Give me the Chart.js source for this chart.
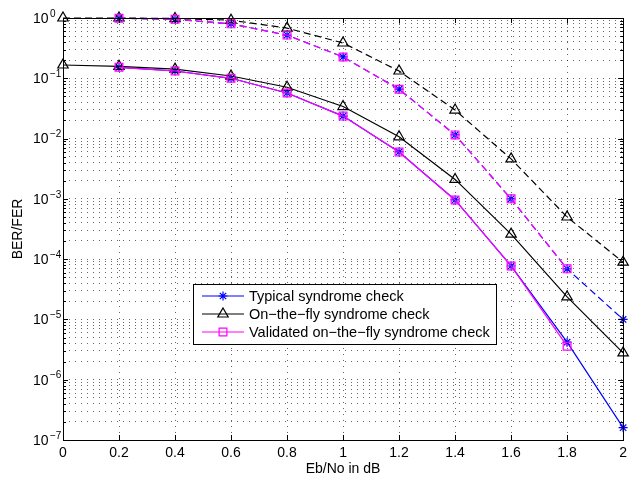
<!DOCTYPE html>
<html>
<head>
<meta charset="utf-8">
<script src="https://cdn.jsdelivr.net/npm/chart.js@4.4.1/dist/chart.umd.min.js"></script>
<style>
  html, body { margin: 0; padding: 0; background: #fff; }
  #wrap { width: 632px; height: 480px; }
</style>
</head>
<body>
<div id="wrap"><canvas id="berChart" width="632" height="480"></canvas></div>
<script>
const ebno = [0, 0.2, 0.4, 0.6, 0.8, 1.0, 1.2, 1.4, 1.6, 1.8, 2.0];

// bit error rate, solid lines
const typicalBer   = [null, 0.152, 0.132, 0.100, 0.057, 0.0236, 0.0060, 9.6e-4, 7.7e-5, 4.2e-6, 1.6e-7];
const onTheFlyBer  = [0.166, 0.158, 0.142, 0.109, 0.071, 0.034, 0.0107, 0.0021, 2.6e-4, 2.36e-5, 2.78e-6];
const validatedBer = [null, 0.152, 0.132, 0.100, 0.057, 0.0236, 0.0060, 9.6e-4, 7.7e-5, 3.6e-6, null];

// frame error rate, dashed lines
const typicalFer   = [null, 0.99, 0.95, 0.80, 0.52, 0.226, 0.066, 0.0115, 0.0010, 6.9e-5, 1.0e-5];
const onTheFlyFer  = [1.0, 1.0, 0.98, 0.92, 0.68, 0.385, 0.132, 0.0297, 0.0046, 5.0e-4, 8.9e-5];
const validatedFer = [null, 0.99, 0.95, 0.80, 0.52, 0.226, 0.066, 0.0115, 0.0010, 6.9e-5, null];

const labels = ['Typical syndrome check', 'On\u2212the\u2212fly syndrome check', 'Validated on\u2212the\u2212fly syndrome check'];
const xTicks = [0, 0.2, 0.4, 0.6, 0.8, 1, 1.2, 1.4, 1.6, 1.8, 2];
const yDecades = [0, -1, -2, -3, -4, -5, -6, -7];

const FONT = '"Liberation Sans", Arial, Helvetica, sans-serif';
const GRID = 'rgba(0,0,0,0.6)';

function points(values) {
  return ebno.map((x, i) => ({ x: x, y: values[i] })).filter(p => p.y !== null);
}

function series(label, values, color, style, radius, dashed, order) {
  return {
    label: label,
    data: points(values),
    borderColor: color,
    backgroundColor: 'rgba(0,0,0,0)',
    borderWidth: 1.2,
    borderDash: dashed ? [7, 4] : [],
    pointStyle: style,
    pointRadius: radius,
    pointBorderWidth: 1.2,
    pointBorderColor: color,
    pointBackgroundColor: 'rgba(0,0,0,0)',
    pointHoverRadius: radius,
    tension: 0,
    clip: false,
    order: order,
    fer: dashed
  };
}

// all 1..9 x 10^k positions for the log grid
const logTicks = [];
for (let k = -7; k <= 0; k++) {
  for (let m = 1; m <= 9; m++) {
    const v = m * Math.pow(10, k);
    if (v <= 1.0000001) logTicks.push({ value: v, major: m === 1 });
  }
}

// inward tick marks, the closed box, y tick labels with exponents, legend
const decorations = {
  id: 'decorations',
  afterDraw(chart) {
    const ctx = chart.ctx;
    const a = chart.chartArea;
    const xs = chart.scales.x, ys = chart.scales.y;
    ctx.save();
    ctx.strokeStyle = '#000';
    ctx.lineWidth = 1;
    ctx.setLineDash([]);

    ctx.beginPath();
    xTicks.forEach(v => {
      const px = Math.round(xs.getPixelForValue(v)) + 0.5;
      ctx.moveTo(px, a.bottom); ctx.lineTo(px, a.bottom - 5);
      ctx.moveTo(px, a.top); ctx.lineTo(px, a.top + 5);
    });
    logTicks.forEach(t => {
      const py = Math.round(ys.getPixelForValue(t.value)) + 0.5;
      const len = t.major ? 5 : 3;
      ctx.moveTo(a.left, py); ctx.lineTo(a.left + len, py);
      ctx.moveTo(a.right, py); ctx.lineTo(a.right - len, py);
    });
    ctx.stroke();

    ctx.strokeRect(Math.round(a.left) + 0.5, Math.round(a.top) + 0.5,
      Math.round(a.right - a.left), Math.round(a.bottom - a.top));

    ctx.fillStyle = '#000';
    ctx.textAlign = 'left';
    ctx.textBaseline = 'middle';
    yDecades.forEach(k => {
      const py = ys.getPixelForValue(Math.pow(10, k));
      ctx.font = '14px ' + FONT;
      ctx.fillText('10', 33, py + 1);
      ctx.font = '10px ' + FONT;
      ctx.fillText(k === 0 ? '0' : '\u2212' + (-k), 50, py - 4);
    });

    // legend box
    const bx = 193, by = 284, bw = 303, bh = 60;
    ctx.fillStyle = '#fff';
    ctx.fillRect(bx, by, bw, bh);
    ctx.strokeRect(bx + 0.5, by + 0.5, bw, bh);
    const entries = chart.data.datasets.filter(d => !d.fer);
    entries.forEach((d, i) => {
      const ry = by + 12 + i * 18;
      ctx.strokeStyle = d.borderColor;
      ctx.lineWidth = 1.2;
      ctx.beginPath();
      ctx.moveTo(bx + 9, ry); ctx.lineTo(bx + 51, ry);
      ctx.stroke();
      ctx.fillStyle = 'rgba(0,0,0,0)';
      Chart.helpers.drawPoint(ctx, {
        pointStyle: d.pointStyle, radius: d.pointRadius, rotation: 0, borderWidth: 1.2
      }, bx + 30, ry);
      ctx.fillStyle = '#000';
      ctx.font = '14.5px ' + FONT;
      ctx.fillText(d.label, bx + 56, ry + 1);
    });
    ctx.restore();
  }
};

const ctx = document.getElementById('berChart').getContext('2d');
const berChart = new Chart(ctx, {
  type: 'line',
  data: {
    datasets: [
      series(labels[0], typicalBer, '#0000ff', 'star', 4.5, false, 2),
      series(labels[1], onTheFlyBer, '#000000', 'triangle', 6, false, 1),
      series(labels[2], validatedBer, '#ff00ff', 'rect', 5.5, false, 0),
      series(labels[0], typicalFer, '#0000ff', 'star', 4.5, true, 2),
      series(labels[1], onTheFlyFer, '#000000', 'triangle', 6, true, 1),
      series(labels[2], validatedFer, '#ff00ff', 'rect', 5.5, true, 0)
    ]
  },
  options: {
    responsive: false,
    animation: false,
    events: [],
    layout: { padding: { left: 0, top: 18, right: 4, bottom: 0 }, autoPadding: false },
    plugins: { legend: { display: false }, tooltip: { enabled: false } },
    scales: {
      x: {
        type: 'linear',
        min: 0,
        max: 2,
        afterBuildTicks: scale => { scale.ticks = xTicks.map(v => ({ value: v })); },
        afterFit: scale => { scale.height = 40; },
        ticks: {
          color: '#000',
          padding: 5,
          font: { family: FONT, size: 14 },
          callback: v => String(Math.round(v * 10) / 10)
        },
        grid: { color: GRID, lineWidth: 1, drawTicks: false },
        border: { display: false, dash: [1, 5] },
        title: {
          display: true,
          text: 'Eb/No in dB',
          color: '#000',
          font: { family: FONT, size: 14 },
          padding: { top: 0, bottom: 2 }
        }
      },
      y: {
        type: 'logarithmic',
        min: 1e-7,
        max: 1,
        afterBuildTicks: scale => { scale.ticks = logTicks.map(t => ({ value: t.value, major: t.major })); },
        afterFit: scale => { scale.width = 63; },
        ticks: { display: false },
        grid: { color: GRID, lineWidth: 1, drawTicks: false },
        border: { display: false, dash: [1, 5] },
        title: {
          display: true,
          text: 'BER/FER',
          color: '#000',
          font: { family: FONT, size: 14 },
          padding: { top: 10, bottom: 0 }
        }
      }
    }
  },
  plugins: [decorations]
});
</script>
</body>
</html>
